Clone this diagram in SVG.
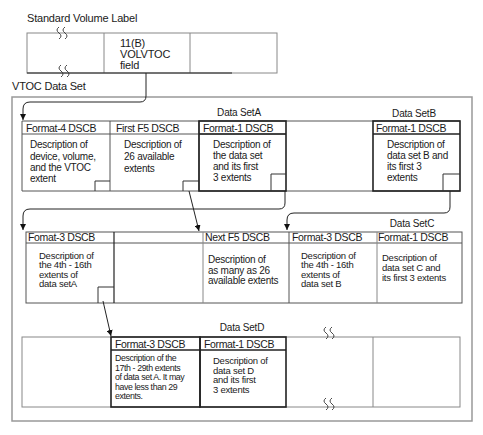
<svg xmlns="http://www.w3.org/2000/svg" width="483" height="435" viewBox="0 0 483 435">
<defs>
<marker id="ah" viewBox="0 0 10 10" refX="10" refY="5" markerWidth="6" markerHeight="6" markerUnits="userSpaceOnUse" orient="auto">
<path d="M0,0 L10,5 L0,10 z" fill="#111"/>
</marker>
<style>
text{font-family:"Liberation Sans",Arial,sans-serif;fill:#1a1a1a}
.t11{font-size:11px;letter-spacing:-0.2px}
.hd{font-size:10.5px;letter-spacing:-0.35px}
.bd{font-size:10px;letter-spacing:-0.25px}
.b2{font-size:9.5px;letter-spacing:-0.25px}
.sm{font-size:8.8px;letter-spacing:-0.4px}
.ds{font-size:10px;letter-spacing:-0.2px}
.ln{fill:none;stroke:#555;stroke-width:1}
.lg{fill:none;stroke:#888;stroke-width:1}
.bx{fill:none;stroke:#222;stroke-width:1.6}
.sq{fill:none;stroke:#333;stroke-width:1}
.wv{fill:none;stroke:#333;stroke-width:0.9}
.cn{fill:none;stroke:#222;stroke-width:1}
</style>
</defs>
<rect width="483" height="435" fill="#fff"/>

<g id="standard-volume-label">
<text class="t11" x="27" y="22">Standard Volume Label</text>
<rect class="lg" x="27" y="33" width="250" height="40"/>
<line class="lg" x1="104" y1="33" x2="104" y2="73"/>
<line class="lg" x1="190" y1="33" x2="190" y2="73"/>
<line x1="27" y1="73" x2="232" y2="73" stroke="#222" stroke-width="1"/>
<text class="t11" x="120" y="47">11(B)</text>
<text class="t11" x="120" y="58">VOLVTOC</text>
<text class="t11" x="120" y="69">field</text>
<path class="wv" d="M59,27 q-4,3 0,6 q4,3 0,6 M65,27 q-4,3 0,6 q4,3 0,6"/>
<path class="wv" d="M61,65 q-4,3 0,6 q4,3 0,6 M67,65 q-4,3 0,6 q4,3 0,6"/>
</g>

<g id="vtoc-data-set">
<text class="t11" x="12" y="90">VTOC Data Set</text>
<rect x="12" y="97" width="460" height="324" fill="none" stroke="#999" stroke-width="1.5"/>
</g>

<g id="data-set-labels">
<text class="ds" x="239" y="116" text-anchor="middle">Data SetA</text>
<text class="ds" x="414" y="117" text-anchor="middle">Data SetB</text>
<text class="ds" x="412" y="227" text-anchor="middle">Data SetC</text>
<text class="ds" x="242" y="331" text-anchor="middle">Data SetD</text>
</g>

<g id="row1-frame">
<line class="ln" x1="22" y1="121" x2="460" y2="121"/>
<line class="ln" x1="22" y1="191" x2="460" y2="191"/>
<line class="ln" x1="22" y1="121" x2="22" y2="191"/>
<line class="ln" x1="22" y1="134" x2="286" y2="134"/>
</g>

<g id="format4-dscb">
<line class="ln" x1="110" y1="121" x2="110" y2="191"/>
<text class="hd" x="26" y="132">Format-4 DSCB</text>
<text class="bd" x="30" y="148">Description of</text>
<text class="bd" x="30" y="159.5">device, volume,</text>
<text class="bd" x="30" y="171">and the VTOC</text>
<text class="bd" x="30" y="182">extent</text>
<path class="sq" d="M95,191 V181 H110"/>
</g>

<g id="first-f5-dscb">
<line class="ln" x1="199" y1="121" x2="199" y2="191"/>
<text class="hd" x="116" y="132">First F5 DSCB</text>
<text class="bd" x="124" y="148">Description of</text>
<text class="bd" x="124" y="160">26 available</text>
<text class="bd" x="124" y="172">extents</text>
<path class="sq" d="M183,191 V181 H199"/>
</g>

<g id="format1-dscb-a">
<rect class="bx" x="199" y="121" width="87" height="70"/>
<line class="bx" x1="199" y1="134" x2="286" y2="134"/>
<text class="hd" x="203" y="132">Format-1 DSCB</text>
<text class="bd" x="213" y="148">Description of</text>
<text class="bd" x="213" y="159">the data set</text>
<text class="bd" x="213" y="170">and its first</text>
<text class="bd" x="213" y="181">3 extents</text>
<path class="sq" d="M271,191 V174 H286"/>
</g>

<g id="format1-dscb-b">
<rect class="bx" x="373" y="121" width="87" height="70"/>
<line class="bx" x1="373" y1="134" x2="460" y2="134"/>
<text class="hd" x="376" y="132">Format-1 DSCB</text>
<text class="bd" x="387" y="148">Description of</text>
<text class="bd" x="387" y="159">data set B and</text>
<text class="bd" x="387" y="170">its first 3</text>
<text class="bd" x="387" y="181">extents</text>
<path class="sq" d="M443,191 V174 H460"/>
</g>

<g id="row2-frame">
<rect class="ln" x="26" y="232" width="436" height="71"/>
<line class="ln" x1="26" y1="243" x2="462" y2="243"/>
<line x1="114" y1="232" x2="114" y2="303" stroke="#222" stroke-width="1.2"/>
<line class="lg" x1="203" y1="232" x2="203" y2="303"/>
<line class="ln" x1="289" y1="232" x2="289" y2="303"/>
<line class="lg" x1="377" y1="232" x2="377" y2="303"/>
</g>

<g id="format3-dscb-a">
<text class="hd" x="28" y="241">Fomat-3 DSCB</text>
<text class="b2" x="39" y="258.5">Description of</text>
<text class="b2" x="39" y="268">the 4th - 16th</text>
<text class="b2" x="39" y="277.5">extents of</text>
<text class="b2" x="39" y="287">data setA</text>
<path class="sq" d="M98,303 V287 H114"/>
</g>

<g id="next-f5-dscb">
<text class="hd" x="205" y="241">Next F5 DSCB</text>
<text class="bd" x="208" y="263">Description of</text>
<text class="bd" x="208" y="273.5">as many as 26</text>
<text class="bd" x="208" y="284">available extents</text>
</g>

<g id="format3-dscb-b">
<text class="hd" x="292" y="241">Format-3 DSCB</text>
<text class="b2" x="301" y="258.5">Description of</text>
<text class="b2" x="301" y="268">the 4th - 16th</text>
<text class="b2" x="301" y="277.5">extents of</text>
<text class="b2" x="301" y="287">data set B</text>
</g>

<g id="format1-dscb-c">
<text class="hd" x="378" y="241">Format-1 DSCB</text>
<text class="b2" x="382" y="261">Description of</text>
<text class="b2" x="382" y="271">data set C and</text>
<text class="b2" x="382" y="281">its first 3 extents</text>
</g>

<g id="row3-frame">
<rect class="lg" x="22" y="337" width="438" height="70"/>
<line class="lg" x1="373" y1="337" x2="373" y2="407"/>
<path class="wv" d="M326,327 q-4,3 0,6 q4,3 0,6 M332,327 q-4,3 0,6 q4,3 0,6"/>
<path class="wv" d="M326,398 q-4,3 0,6 q4,3 0,6 M332,398 q-4,3 0,6 q4,3 0,6"/>
</g>

<g id="format3-dscb-d">
<rect class="bx" x="111" y="337" width="89" height="70"/>
<line class="bx" x1="111" y1="350" x2="200" y2="350"/>
<text class="hd" x="115" y="347.5">Format-3 DSCB</text>
<text class="sm" x="115" y="361">Description of the</text>
<text class="sm" x="115" y="370.5">17th - 29th extents</text>
<text class="sm" x="115" y="380">of data set A. It may</text>
<text class="sm" x="115" y="389.5">have less than 29</text>
<text class="sm" x="115" y="399">extents.</text>
</g>

<g id="format1-dscb-d">
<rect class="bx" x="200" y="337" width="86" height="70"/>
<line class="bx" x1="200" y1="350" x2="286" y2="350"/>
<text class="hd" x="204" y="347.5">Format-1 DSCB</text>
<text class="b2" x="213" y="364">Description of</text>
<text class="b2" x="213" y="373.5">data set D</text>
<text class="b2" x="213" y="383">and its first</text>
<text class="b2" x="213" y="392.5">3 extents</text>
</g>

<g id="connectors">
<path class="cn" d="M146,73 V96 Q146,102 140,102 H30 Q23,102 23,109 V120" marker-end="url(#ah)"/>
<path class="cn" d="M285,191 V203 Q285,209 279,209 H30 Q23,209 23,216 V230" marker-end="url(#ah)"/>
<path class="cn" d="M189,191 L199,231" marker-end="url(#ah)"/>
<path class="cn" d="M450,191 V207 Q450,213 444,213 H294 Q287,213 287,220 V230" marker-end="url(#ah)"/>
<path class="cn" d="M103,301 L111,336" marker-end="url(#ah)"/>
</g>
</svg>
